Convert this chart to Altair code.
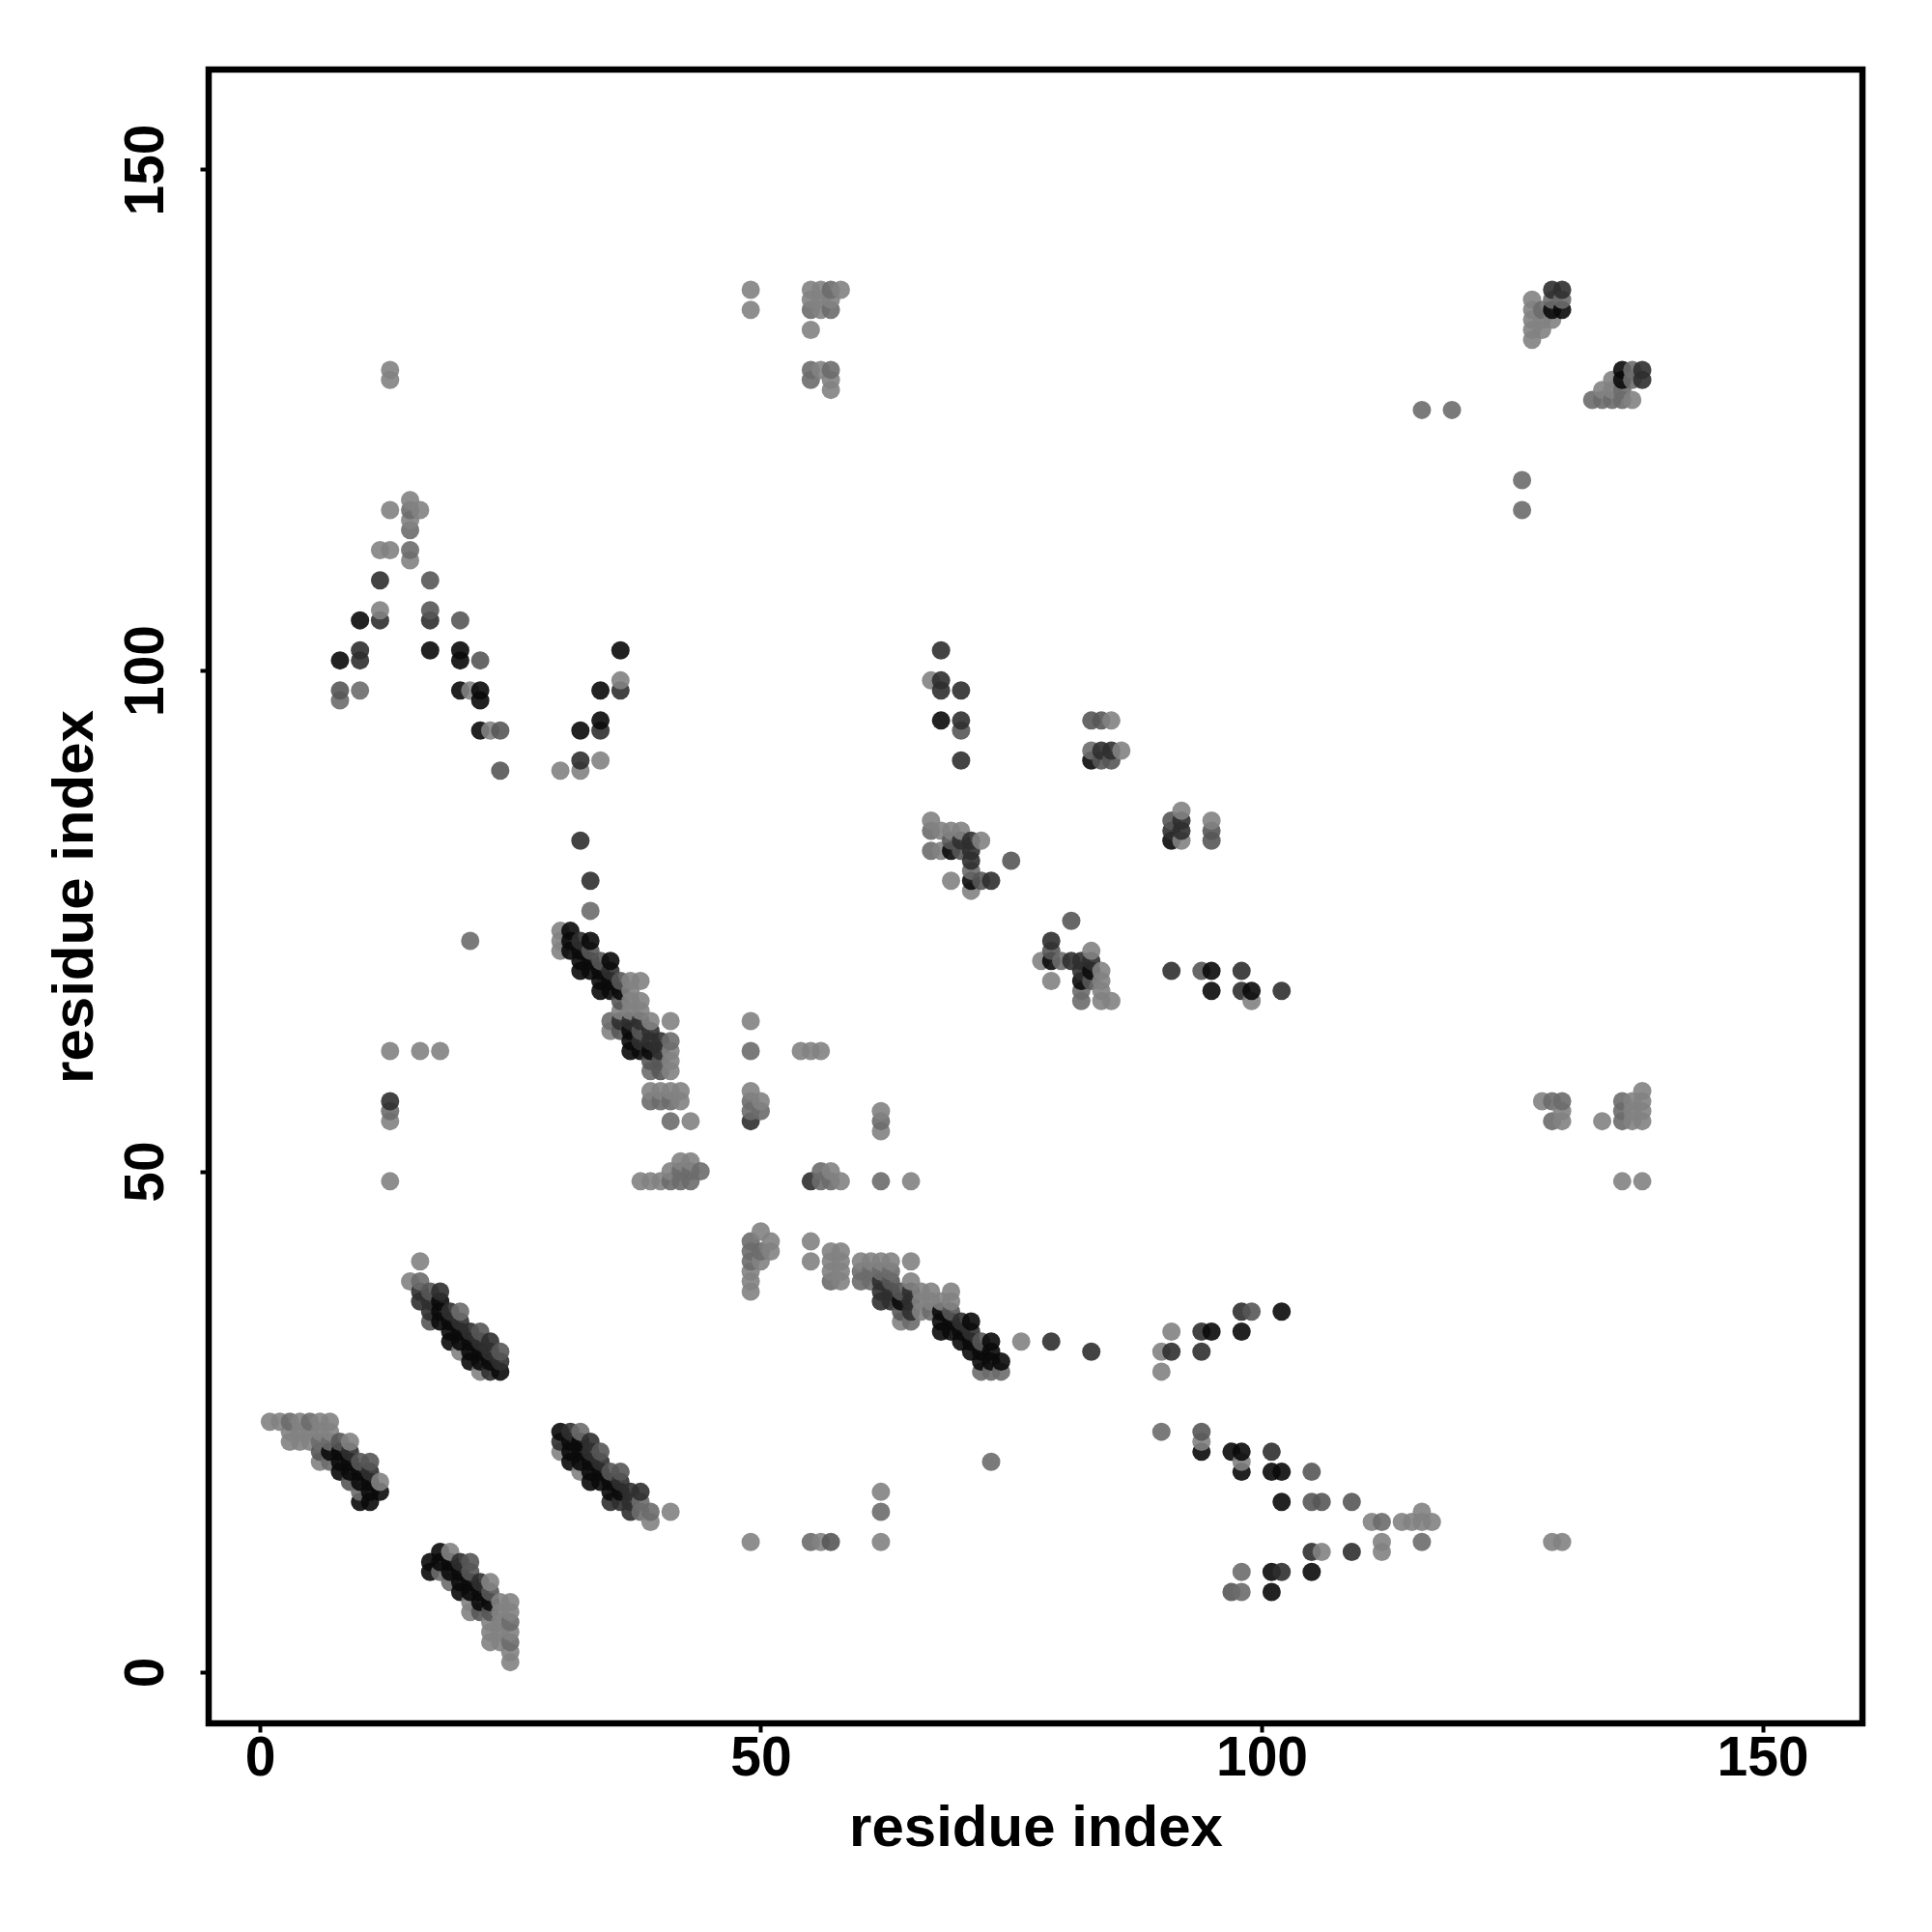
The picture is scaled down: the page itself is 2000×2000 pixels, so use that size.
import altair as alt
import pandas as pd

# shade codes: l light, a mid-light, m mid, d dark, k near black
BAND_A = [(1,25,'l'),(2,25,'l'),(3,25,'a'),(4,25,'l'),(5,25,'a'),(6,25,'l'),(7,25,'l'),
          (3,24,'l'),(4,24,'l'),(5,24,'l'),(6,24,'l'),(7,24,'l'),
          (3,23,'l'),(4,23,'l'),(5,23,'l'),(6,23,'a'),(7,23,'a'),(8,23,'m'),(9,23,'l'),
          (6,22,'m'),(7,22,'k'),(8,22,'k'),(9,22,'d'),
          (6,21,'l'),(7,21,'a'),(8,21,'k'),(9,21,'k'),(10,21,'m'),(11,21,'m'),
          (8,20,'k'),(9,20,'k'),(10,20,'k'),(11,20,'d'),
          (9,19,'m'),(10,19,'k'),(11,19,'k'),(12,19,'l'),
          (10,18,'a'),(11,18,'k'),(12,18,'k'),(10,17,'k'),(11,17,'k')]
BAND_B = [(18,12,'k'),(19,12,'l'),(17,11,'k'),(18,11,'k'),(19,11,'k'),(20,11,'d'),(21,11,'m'),
          (17,10,'k'),(18,10,'a'),(19,10,'k'),(20,10,'k'),(21,10,'m'),
          (19,9,'a'),(20,9,'k'),(21,9,'k'),(22,9,'d'),(23,9,'l'),
          (20,8,'k'),(21,8,'k'),(22,8,'k'),(23,8,'m'),
          (21,7,'l'),(22,7,'k'),(23,7,'k'),(24,7,'l'),(25,7,'l'),
          (21,6,'l'),(22,6,'m'),(23,6,'m'),(24,6,'l'),(25,6,'l'),
          (23,5,'l'),(24,5,'l'),(25,5,'a'),(23,4,'l'),(24,4,'l'),(25,4,'l'),
          (23,3,'l'),(24,3,'l'),(25,3,'a'),(25,2,'l'),(25,1,'l')]
BAND_C = [(30,24,'k'),(31,24,'d'),(32,24,'a'),(30,23,'d'),(31,23,'k'),(32,23,'k'),(33,23,'d'),
          (30,22,'l'),(31,22,'k'),(32,22,'k'),(33,22,'d'),(34,22,'m'),
          (31,21,'k'),(32,21,'k'),(33,21,'k'),(34,21,'d'),
          (32,20,'l'),(33,20,'k'),(34,20,'k'),(35,20,'m'),(36,20,'m'),
          (33,19,'k'),(34,19,'k'),(35,19,'k'),(36,19,'d'),
          (35,18,'k'),(36,18,'k'),(37,18,'d'),(38,18,'d'),
          (35,17,'d'),(36,17,'d'),(37,17,'d'),(38,17,'a'),
          (37,16,'d'),(38,16,'a'),(39,16,'a'),(41,16,'l'),(39,15,'l')]
BAND_D = [(16,41,'l'),(15,39,'l'),(16,39,'a'),(16,38,'d'),(17,38,'m'),(18,38,'d'),
          (16,37,'d'),(17,37,'d'),(18,37,'k'),(17,36,'d'),(18,36,'k'),(19,36,'d'),(20,36,'a'),
          (17,35,'m'),(18,35,'k'),(19,35,'k'),(20,35,'d'),
          (19,34,'k'),(20,34,'k'),(21,34,'d'),(22,34,'m'),
          (19,33,'k'),(20,33,'k'),(21,33,'k'),(22,33,'d'),(23,33,'d'),
          (20,32,'l'),(21,32,'k'),(22,32,'k'),(23,32,'d'),(24,32,'m'),
          (21,31,'k'),(22,31,'k'),(23,31,'k'),(24,31,'d'),
          (22,30,'l'),(23,30,'d'),(24,30,'k')]
BAND_E = [(50,44,'l'),(49,43,'a'),(51,43,'l'),(49,42,'a'),(50,42,'a'),(51,42,'l'),
          (49,41,'a'),(50,41,'l'),(49,40,'l'),(49,39,'l'),(49,38,'l'),
          (55,43,'l'),(55,41,'l'),
          (57,42,'l'),(58,42,'l'),(57,41,'l'),(58,41,'l'),(57,40,'l'),(58,40,'l'),(57,39,'a'),(58,39,'l'),
          (60,41,'l'),(61,41,'l'),(62,41,'l'),(63,41,'l'),(65,41,'l'),
          (60,40,'a'),(61,40,'a'),(62,40,'a'),(63,40,'a'),
          (60,39,'a'),(61,39,'a'),(62,39,'d'),(63,39,'m'),(65,39,'l'),
          (62,38,'d'),(63,38,'d'),(64,38,'m'),(65,38,'d'),(66,38,'l'),(67,38,'l'),(69,38,'l'),
          (62,37,'d'),(63,37,'d'),(64,37,'k'),(65,37,'d'),(66,37,'l'),(67,37,'l'),(68,37,'l'),(69,37,'l'),
          (64,36,'m'),(65,36,'d'),(66,36,'l'),(67,36,'a'),(68,36,'k'),(69,36,'m'),
          (64,35,'l'),(65,35,'a'),(68,35,'k'),(69,35,'k'),(70,35,'d'),(71,35,'k'),
          (68,34,'k'),(69,34,'k'),(70,34,'k'),(71,34,'d'),
          (70,33,'k'),(71,33,'k'),(72,33,'m'),(73,33,'k'),(76,33,'l'),(79,33,'d'),
          (71,32,'k'),(72,32,'k'),(73,32,'k'),(83,32,'d'),
          (72,31,'k'),(73,31,'k'),(74,31,'k'),(72,30,'a'),(73,30,'a'),(74,30,'a'),
          (73,21,'a'),(62,18,'l'),(62,16,'a')]
BAND_F = [(33,79,'d'),(32,83,'d'),(33,76,'a'),
          (30,74,'l'),(30,73,'l'),(30,72,'l'),(31,74,'k'),(31,73,'k'),(32,73,'d'),(33,73,'k'),
          (31,72,'k'),(32,72,'k'),(33,72,'m'),(32,71,'k'),(33,71,'k'),(34,71,'m'),(35,71,'k'),
          (32,70,'k'),(33,70,'k'),(34,70,'k'),(35,70,'d'),
          (34,69,'k'),(35,69,'k'),(36,69,'m'),(37,69,'l'),(38,69,'l'),
          (34,68,'k'),(35,68,'k'),(36,68,'k'),(37,68,'l'),
          (36,67,'m'),(37,67,'l'),(38,67,'l'),(36,66,'l'),(37,66,'l'),(38,66,'l'),
          (35,65,'a'),(36,65,'d'),(37,65,'d'),(38,65,'d'),(39,65,'l'),(41,65,'l'),
          (35,64,'l'),(36,64,'m'),(37,64,'k'),(38,64,'m'),(39,64,'d'),
          (37,63,'k'),(38,63,'d'),(39,63,'d'),(40,63,'d'),(41,63,'a'),
          (37,62,'k'),(38,62,'k'),(39,62,'k'),(40,62,'d'),(41,62,'l'),
          (39,61,'m'),(40,61,'m'),(41,61,'l'),(39,60,'a'),(40,60,'m'),(41,60,'l'),
          (39,58,'l'),(40,58,'l'),(41,58,'l'),(42,58,'l'),(39,57,'a'),(40,57,'a'),(41,57,'a'),(42,57,'l'),
          (41,55,'a'),(43,55,'l'),(42,51,'l'),(43,51,'l'),(41,50,'l'),(42,50,'a'),(43,50,'a'),(44,50,'a'),
          (38,49,'l'),(39,49,'l'),(40,49,'l'),(41,49,'a'),(42,49,'a'),(43,49,'a')]
SCATTER_G = [(49,65,'l'),(49,62,'a'),(49,58,'l'),(49,57,'a'),(50,57,'l'),(49,56,'a'),(50,56,'a'),(49,55,'d'),
             (54,62,'l'),(55,62,'l'),(56,62,'l'),(62,56,'l'),(62,55,'a'),(62,54,'l'),
             (55,49,'d'),(56,49,'a'),(57,49,'a'),(58,49,'l'),(56,50,'a'),(57,50,'l'),(62,49,'a'),(65,49,'l'),
             (13,130,'l'),(13,129,'l'),(116,126,'a'),(119,126,'a'),(126,119,'a'),(126,116,'a'),
             (21,73,'a'),(13,62,'l'),(16,62,'l'),(18,62,'l'),(13,57,'d'),(13,56,'a'),(13,55,'l'),(13,49,'l')]
PEAK_H = [(15,117,'l'),(13,116,'l'),(15,116,'a'),(16,116,'l'),(15,115,'l'),(15,114,'a'),
          (12,112,'l'),(13,112,'l'),(15,112,'a'),(15,111,'l'),(12,109,'d'),(17,109,'m'),
          (12,106,'l'),(12,105,'d'),(10,105,'k'),(17,106,'m'),(17,105,'d'),(20,105,'m'),
          (10,102,'d'),(10,101,'d'),(8,101,'k'),(17,102,'k'),(20,102,'k'),(20,101,'k'),(22,101,'m'),
          (8,98,'m'),(8,97,'a'),(10,98,'a'),(20,98,'k'),(21,98,'l'),(22,98,'k'),(22,97,'k'),
          (22,94,'k'),(23,94,'l'),(24,94,'m'),(24,90,'m'),
          (36,102,'k'),(36,99,'l'),(36,98,'d'),(34,98,'k'),(34,95,'k'),(34,94,'d'),
          (32,94,'k'),(32,91,'d'),(32,90,'l'),(34,91,'l'),(30,90,'l')]
GROUP_I = [(68,102,'d'),(67,99,'l'),(68,99,'d'),(68,98,'d'),(70,98,'d'),(68,95,'k'),(70,95,'d'),(70,94,'m'),(70,91,'d'),
           (83,95,'m'),(84,95,'m'),(85,95,'l'),(83,92,'a'),(84,92,'d'),(85,92,'d'),(86,92,'l'),
           (83,91,'k'),(84,91,'m'),(85,91,'m'),
           (67,85,'l'),(67,84,'a'),(68,84,'l'),(69,84,'l'),(70,84,'l'),(67,82,'a'),(68,82,'l'),
           (69,83,'m'),(69,82,'k'),(70,83,'d'),(70,82,'m'),(71,83,'d'),(72,83,'l'),(71,82,'d'),(71,81,'d'),
           (75,81,'m'),(71,80,'a'),(69,79,'l'),(71,79,'k'),(72,79,'m'),(73,79,'d'),(71,78,'l')]
GROUP_J = [(92,86,'l'),(91,85,'m'),(92,85,'d'),(91,84,'d'),(92,84,'d'),(91,83,'k'),(92,83,'l'),
           (95,85,'l'),(95,84,'m'),(95,83,'m'),
           (81,75,'m'),(79,73,'d'),(79,72,'m'),(78,71,'l'),(79,71,'k'),(80,71,'a'),(81,71,'d'),(82,71,'d'),
           (83,72,'l'),(83,71,'d'),(83,70,'k'),(84,70,'l'),(82,70,'d'),(79,69,'l'),(82,69,'k'),(83,69,'m'),
           (84,69,'l'),(82,68,'a'),(82,67,'a'),(84,68,'l'),(84,67,'l'),(85,67,'l'),
           (91,70,'d'),(94,70,'m'),(95,70,'k'),(98,70,'d'),(95,68,'k'),(98,68,'d'),(99,68,'k'),(99,67,'l'),(102,68,'d')]
CORNER_K = [(127,137,'l'),(129,138,'d'),(130,138,'d'),(129,137,'a'),(130,137,'a'),(128,136,'a'),(129,136,'k'),(130,136,'k'),
            (127,136,'l'),(127,135,'l'),(128,135,'l'),(129,135,'l'),(127,134,'l'),(128,134,'l'),(127,133,'l'),
            (133,127,'a'),(134,127,'a'),(135,127,'a'),(136,127,'a'),(137,127,'l'),(134,128,'l'),(135,128,'l'),(136,128,'a'),
            (135,129,'l'),(136,129,'k'),(137,129,'a'),(138,129,'d'),(136,130,'k'),(137,130,'a'),(138,130,'d'),
            (49,138,'l'),(49,136,'l'),(55,138,'l'),(56,138,'l'),(57,138,'a'),(58,138,'l'),(55,137,'l'),(56,137,'l'),(57,137,'l'),
            (55,136,'a'),(56,136,'l'),(57,136,'a'),(55,134,'l'),(55,130,'a'),(56,130,'l'),(57,130,'a'),(55,129,'a'),(57,129,'l'),(57,128,'l')]
TAIL_L = [(90,30,'l'),(90,32,'l'),(91,32,'d'),(91,34,'l'),(94,32,'d'),(94,34,'d'),(95,34,'k'),(98,34,'k'),(98,36,'d'),(99,36,'m'),(102,36,'k'),
          (90,24,'a'),(94,24,'m'),(94,23,'l'),(94,22,'k'),(97,22,'k'),(98,22,'k'),(98,21,'l'),(98,20,'k'),(101,22,'d'),(101,20,'k'),(102,20,'k'),
          (105,20,'m'),(102,17,'k'),(105,17,'m'),(106,17,'m'),(109,17,'m'),(111,15,'l'),(112,15,'a'),(114,15,'l'),(115,15,'l'),(116,15,'l'),(117,15,'l'),
          (116,16,'l'),(112,13,'l'),(112,12,'l'),(116,13,'a'),(105,12,'d'),(106,12,'l'),(109,12,'d'),(105,10,'k'),(101,10,'k'),(102,10,'d'),(98,10,'a'),
          (97,8,'m'),(98,8,'a'),(101,8,'k'),
          (49,13,'l'),(55,13,'a'),(56,13,'l'),(57,13,'m'),(62,13,'l'),(129,13,'l'),(130,13,'l'),
          (128,57,'l'),(129,57,'a'),(130,57,'a'),(129,55,'a'),(130,55,'l'),(130,56,'l'),(134,55,'l'),
          (136,57,'a'),(137,57,'l'),(138,58,'l'),(138,57,'l'),(136,56,'a'),(137,56,'l'),(138,56,'l'),(136,55,'a'),(137,55,'l'),(138,55,'l'),
          (136,49,'l'),(138,49,'l')]

SHADES = {'l': '#828282', 'a': '#6c6c6c', 'm': '#575757', 'd': '#2f2f2f', 'k': '#0a0a0a'}
TICKS = [0, 50, 100, 150]
AXIS_TITLE = 'residue index'
FONT = 'Liberation Sans'

rows = BAND_A + BAND_B + BAND_C + BAND_D + BAND_E + BAND_F + SCATTER_G + PEAK_H + GROUP_I + GROUP_J + CORNER_K + TAIL_L
df = pd.DataFrame(rows, columns=['x', 'y', 'shade']).drop_duplicates(['x', 'y']).sort_values(['x', 'y'])
df['order'] = range(len(df))

dom = [-5.11, 159.98]
common = dict(values=TICKS, grid=False, domain=False, ticks=True, tickColor='black', tickSize=9, tickWidth=4,
              labelFont=FONT, labelFontSize=57, labelFontWeight='bold', labelColor='black',
              titleFont=FONT, titleFontSize=60, titleFontWeight='bold', titleColor='black', title=AXIS_TITLE)

chart = alt.Chart(df).mark_circle(size=361, opacity=0.9).encode(
    x=alt.X('x:Q', scale=alt.Scale(domain=dom, nice=False, zero=False),
            axis=alt.Axis(labelPadding=-1, titlePadding=15.5, **common)),
    y=alt.Y('y:Q', scale=alt.Scale(domain=dom, nice=False, zero=False),
            axis=alt.Axis(labelAngle=270, labelAlign='center', labelBaseline='bottom', labelPadding=26.5, titlePadding=14, **common)),
    color=alt.Color('shade:N', scale=alt.Scale(domain=list(SHADES), range=list(SHADES.values())), legend=None),
    order='order:Q',
).properties(
    width=1712, height=1712,
    background='white',
    autosize=alt.AutoSizeParams(type='none'),
    padding={'left': 208, 'top': 64, 'right': 60, 'bottom': 200},
).configure_view(stroke='black', strokeWidth=6.5)

chart.save('out.html', embed_options={'renderer': 'svg', 'actions': False})
